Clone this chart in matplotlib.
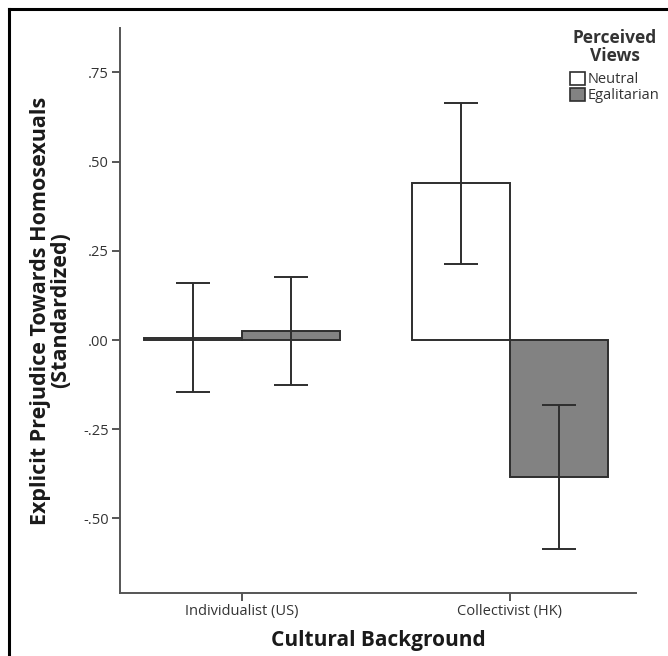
import numpy as np
import matplotlib
matplotlib.use('Agg')
import matplotlib.pyplot as plt
from matplotlib.patches import Patch
from matplotlib.lines import Line2D

# data
groups = ['Individualist (US)', 'Collectivist (HK)']
views = ['Neutral', 'Egalitarian']
means = {'Neutral': [0.005, 0.44], 'Egalitarian': [0.025, -0.384]}
ci_low = {'Neutral': [-0.146, 0.214], 'Egalitarian': [-0.126, -0.585]}
ci_high = {'Neutral': [0.16, 0.665], 'Egalitarian': [0.176, -0.182]}
yticks = [0.75, 0.5, 0.25, 0.0, -0.25, -0.5]
ytick_labels = ['.75', '.50', '.25', '.00', '-.25', '-.50']

plt.rcParams['font.family'] = ['Open Sans', 'DejaVu Sans']

fills = {'Neutral': 'white', 'Egalitarian': '#828282'}
edge = '#2e2e2e'
spine_col = '#555555'
text_col = '#333333'

fig = plt.figure(figsize=(6.68, 6.56), dpi=100)
ax = fig.add_axes([0.1796, 0.096, 0.7724, 0.861])

x = np.arange(len(groups))
width = 0.366
for i, v in enumerate(views):
	pos = x + (i - 0.5) * width
	m = np.array(means[v])
	ax.bar(pos, m, width, color=fills[v], edgecolor=edge, linewidth=1.4, zorder=2)
	lo = m - np.array(ci_low[v])
	hi = np.array(ci_high[v]) - m
	ax.errorbar(pos, m, yerr=[lo, hi], fmt='none', ecolor=edge, elinewidth=1.4,
				capsize=12.5, capthick=1.4, zorder=3)

ax.set_xlim(-0.455, 1.47)
ax.set_ylim(-0.709, 0.874)
ax.set_xticks(x)
ax.set_xticklabels(groups, fontsize=10.5, color=text_col)
ax.set_yticks(yticks)
ax.set_yticklabels(ytick_labels, fontsize=10.5, color=text_col)
ax.tick_params(axis='both', direction='out', length=6, width=1.4, color=spine_col, pad=2)
for s in ['top', 'right']:
	ax.spines[s].set_visible(False)
for s in ['left', 'bottom']:
	ax.spines[s].set_color(spine_col)
	ax.spines[s].set_linewidth(1.4)

ax.set_ylabel('Explicit Prejudice Towards Homosexuals\n(Standardized)', fontsize=15.5,
			  fontweight='bold', color='#1a1a1a', linespacing=0.92, labelpad=9)
ax.set_xlabel('Cultural Background', fontsize=15, fontweight='bold', color='#1a1a1a', labelpad=8)

handles = [Patch(facecolor=fills[v], edgecolor=edge, linewidth=1.2) for v in views]
leg = ax.legend(handles, views, title='Perceived\nViews', loc='upper right',
				bbox_to_anchor=(1.065, 1.016), frameon=False, fontsize=10.5,
				title_fontsize=12.5, handlelength=1.0, handleheight=1.0,
				handletextpad=0.2, labelspacing=0.05, borderpad=0.2)
leg.get_title().set_multialignment('center')
leg.get_title().set_color(text_col)
leg.get_title().set_fontweight('bold')
leg.get_title().set_linespacing(0.95)
leg._legend_box.sep = 5
for t in leg.get_texts():
	t.set_color(text_col)

# outer frame, only top and left edges visible
fig.add_artist(Line2D([0.0135, 1.0], [0.987, 0.987], color='black', linewidth=2.2))
fig.add_artist(Line2D([0.0135, 0.0135], [0.0, 0.987], color='black', linewidth=2.2))

fig.savefig('out.png', dpi=100)
